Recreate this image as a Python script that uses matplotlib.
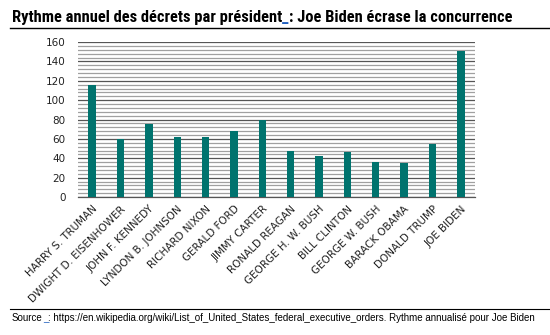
import matplotlib
matplotlib.use("Agg")
import matplotlib.pyplot as plt
from matplotlib.font_manager import findfont, FontProperties

presidents = ["HARRY S. TRUMAN", "DWIGHT D. EISENHOWER", "JOHN F. KENNEDY",
              "LYNDON B. JOHNSON", "RICHARD NIXON", "GERALD FORD", "JIMMY CARTER",
              "RONALD REAGAN", "GEORGE H. W. BUSH", "BILL CLINTON", "GEORGE W. BUSH",
              "BARACK OBAMA", "DONALD TRUMP", "JOE BIDEN"]
rates = [116, 60, 75, 62, 62, 68, 80, 48, 42, 46, 36, 35, 55, 151]
yticks = [0, 20, 40, 60, 80, 100, 120, 140, 160]

title_parts = ["Rythme annuel des décrets par président", "_", ": Joe Biden écrase la concurrence"]
source_parts = ["Source", "_", ": https://en.wikipedia.org/wiki/List_of_United_States_federal_executive_orders. Rythme annualisé pour Joe Biden"]

W, H = 550, 335
fig = plt.figure(figsize=(W/100, H/100), dpi=100)
ax = fig.add_axes([78/W, 1-197/H, (475-78)/W, (197-42)/H])

x = list(range(len(presidents)))
ax.bar(x, rates, width=0.26, color="#00736E", zorder=3)
ax.set_xlim(-0.5, len(presidents)-0.5)
ax.set_ylim(0, 160)
ax.set_yticks(yticks)
ax.set_yticks(range(0, 161, 4), minor=True)
ax.grid(axis="y", which="major", color="#555555", lw=0.9, zorder=1)
ax.grid(axis="y", which="minor", color="#a0a0a0", lw=0.9, zorder=1)
ax.tick_params(axis="both", which="both", length=0)
ax.tick_params(axis="y", pad=9, labelsize=7.5, labelcolor="#222222")
ax.set_xticks(x)
ax.set_xticklabels(presidents, rotation=45, ha="right", rotation_mode="anchor",
                   fontsize=7.5, color="#222222")
ax.tick_params(axis="x", pad=5)
for s in ["top", "right", "left"]:
    ax.spines[s].set_visible(False)
ax.spines["bottom"].set_color("#555555")
ax.spines["bottom"].set_linewidth(0.9)

# header & footer rules
fig.add_artist(plt.Line2D([10/W, 1], [1-28/H, 1-28/H], color="black", lw=1))
fig.add_artist(plt.Line2D([10/W, 1], [1-308.5/H, 1-308.5/H], color="black", lw=0.8))

def fam(names):
    for n in names:
        try:
            findfont(FontProperties(family=n), fallback_to_default=False)
            return n
        except Exception:
            pass
    return "DejaVu Sans"

title_font = fam(["Liberation Sans Narrow", "Roboto Condensed", "Liberation Sans"])

fig.canvas.draw()
r = fig.canvas.get_renderer()

def chain(parts, x0, y0, colors, **kw):
    xx = x0
    for p, c in zip(parts, colors):
        t = fig.text(xx, y0, p, color=c, transform=fig.transFigure, **kw)
        bb = t.get_window_extent(renderer=r)
        xx = xx + bb.width / W

chain(title_parts, 12/W, 1-22/H, ["black", "#1f5fbf", "black"],
      fontsize=11.9, fontweight="bold", family=title_font, va="baseline")
chain(source_parts, 12/W, 1-321/H, ["black", "#1f5fbf", "black"],
      fontsize=7, family="Liberation Sans", va="baseline")

fig.savefig("out.png", dpi=100)
